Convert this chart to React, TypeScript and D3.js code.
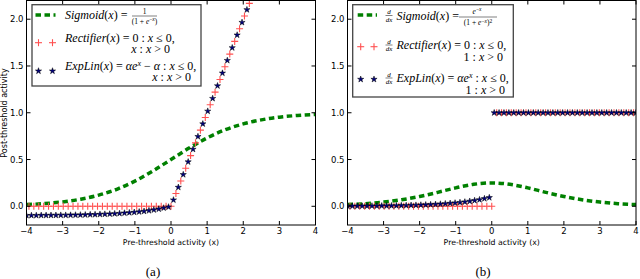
import React from 'react';
import * as d3 from 'd3';

// tick values
const xTicks = [-4, -3, -2, -1, 0, 1, 2, 3, 4];
const yTicks = [0, 0.5, 1, 1.5, 2];

// sigmoid curve samples (x every 0.5)
const sigX = [-4, -3.5, -3, -2.5, -2, -1.5, -1, -0.5, 0, 0.5, 1, 1.5, 2, 2.5, 3, 3.5, 4];
const sigY = [0.018, 0.029, 0.047, 0.076, 0.119, 0.182, 0.269, 0.378, 0.5, 0.622, 0.731, 0.818, 0.881, 0.924, 0.953, 0.971, 0.982];
const sigDY = [0.018, 0.028, 0.045, 0.07, 0.105, 0.149, 0.197, 0.235, 0.25, 0.235, 0.197, 0.149, 0.105, 0.07, 0.045, 0.028, 0.018];

// ExpLin samples (stars)
const starX = [
  -4.0, -3.864, -3.729, -3.593, -3.458, -3.322, -3.186, -3.051, -2.915, -2.78,
  -2.644, -2.508, -2.373, -2.237, -2.102, -1.966, -1.831, -1.695, -1.559, -1.424,
  -1.288, -1.153, -1.017, -0.881, -0.746, -0.61, -0.475, -0.339, -0.203, -0.068,
  0.068, 0.203, 0.339, 0.475, 0.61, 0.746, 0.881, 1.017, 1.153, 1.288,
  1.424, 1.559, 1.695, 1.831, 1.966, 2.102, 2.237, 2.373, 2.508, 2.644,
  2.78, 2.915, 3.051, 3.186, 3.322, 3.458, 3.593, 3.729, 3.864, 4.0,
];
const expLinY = [
  -0.098, -0.098, -0.098, -0.097, -0.097, -0.096, -0.096, -0.095, -0.095, -0.094,
  -0.093, -0.092, -0.091, -0.089, -0.088, -0.086, -0.084, -0.082, -0.079, -0.076,
  -0.072, -0.068, -0.064, -0.059, -0.053, -0.046, -0.038, -0.029, -0.018, -0.007,
  0.068, 0.203, 0.339, 0.475, 0.61, 0.746, 0.881, 1.017, 1.153, 1.288,
  1.424, 1.559, 1.695, 1.831, 1.966, 2.102, 2.237, 2.373, 2.508, 2.644,
  2.78, 2.915, 3.051, 3.186, 3.322, 3.458, 3.593, 3.729, 3.864, 4.0,
];
const expLinDY = [
  0.002, 0.002, 0.002, 0.003, 0.003, 0.004, 0.004, 0.005, 0.005, 0.006,
  0.007, 0.008, 0.009, 0.011, 0.012, 0.014, 0.016, 0.018, 0.021, 0.024,
  0.028, 0.032, 0.036, 0.041, 0.047, 0.054, 0.062, 0.071, 0.082, 0.093,
  1, 1, 1, 1, 1, 1, 1, 1, 1, 1,
  1, 1, 1, 1, 1, 1, 1, 1, 1, 1,
  1, 1, 1, 1, 1, 1, 1, 1, 1, 1,
];

// Rectifier samples (pluses)
const plusX = [
  -3.932, -3.797, -3.661, -3.525, -3.39, -3.254, -3.119, -2.983, -2.847, -2.712,
  -2.576, -2.441, -2.305, -2.169, -2.034, -1.898, -1.763, -1.627, -1.492, -1.356,
  -1.22, -1.085, -0.949, -0.814, -0.678, -0.542, -0.407, -0.271, -0.136, 0.0,
  0.136, 0.271, 0.407, 0.542, 0.678, 0.814, 0.949, 1.085, 1.22, 1.356,
  1.492, 1.627, 1.763, 1.898, 2.034, 2.169, 2.305, 2.441, 2.576, 2.712,
  2.847, 2.983, 3.119, 3.254, 3.39, 3.525, 3.661, 3.797, 3.932,
];
const rectY = [
  0, 0, 0, 0, 0, 0, 0, 0, 0, 0,
  0, 0, 0, 0, 0, 0, 0, 0, 0, 0,
  0, 0, 0, 0, 0, 0, 0, 0, 0, 0,
  0.136, 0.271, 0.407, 0.542, 0.678, 0.814, 0.949, 1.085, 1.22, 1.356,
  1.492, 1.627, 1.763, 1.898, 2.034, 2.169, 2.305, 2.441, 2.576, 2.712,
  2.847, 2.983, 3.119, 3.254, 3.39, 3.525, 3.661, 3.797, 3.932,
];
const rectDY = [
  0, 0, 0, 0, 0, 0, 0, 0, 0, 0,
  0, 0, 0, 0, 0, 0, 0, 0, 0, 0,
  0, 0, 0, 0, 0, 0, 0, 0, 0, 0,
  1, 1, 1, 1, 1, 1, 1, 1, 1, 1,
  1, 1, 1, 1, 1, 1, 1, 1, 1, 1,
  1, 1, 1, 1, 1, 1, 1, 1, 1,
];

const GREEN = '#008000';
const RED = '#ff5050';
const NAVY = '#000080';
const SANS = '"DejaVu Sans", sans-serif';
const SERIF = '"Liberation Serif", serif';

const y = d3.scaleLinear().domain([-0.2, 2.2]).range([225, 0.5]);
const starPath = d3.symbol(d3.symbolStar, 12)() as string;

const Plus = ({ cx, cy }: { cx: number; cy: number }) => (
  <g stroke={RED} strokeWidth={1.1}>
    <line x1={cx - 3.5} x2={cx + 3.5} y1={cy} y2={cy} />
    <line x1={cx} x2={cx} y1={cy - 3.5} y2={cy + 3.5} />
  </g>
);
const Star = ({ cx, cy }: { cx: number; cy: number }) => (
  <path d={starPath} transform={`translate(${cx},${cy})`} fill={NAVY} stroke="#000" strokeWidth={0.5} />
);

const Panel = ({ id, x0, x1, lineY, plusY, starY, label, capX, children }: any) => {
  const x = d3.scaleLinear().domain([-4, 4]).range([x0, x1]);
  const [top, bottom] = [y.range()[1], y.range()[0]];
  const line = d3.line<number>().x((d, i) => x(sigX[i])).y((d) => y(d)).curve(d3.curveMonotoneX);
  return (
    <g>
      <defs>
        <clipPath id={id}>
          <rect x={x0} y={top} width={x1 - x0} height={bottom - top} />
        </clipPath>
      </defs>
      <g clipPath={`url(#${id})`}>
        <path d={line(lineY) as string} fill="none" stroke={GREEN} strokeWidth={3.5} strokeDasharray="5.5 3.5" />
        {plusX.map((v, i) => <Plus key={i} cx={x(v)} cy={y(plusY[i])} />)}
        {starX.map((v, i) => <Star key={i} cx={x(v)} cy={y(starY[i])} />)}
      </g>
      <rect x={x0} y={top} width={x1 - x0} height={bottom - top} fill="none" stroke="#000" strokeWidth={1} />
      {xTicks.map((t) => (
        <g key={t}>
          <line x1={x(t)} x2={x(t)} y1={bottom} y2={bottom - 4} stroke="#000" />
          <line x1={x(t)} x2={x(t)} y1={top} y2={top + 4} stroke="#000" />
          <text x={x(t)} y={233.5} textAnchor="middle" fontFamily={SANS} fontSize={8.5}>
            {t < 0 ? `\u2212${-t}` : t}
          </text>
        </g>
      ))}
      {yTicks.map((t) => (
        <g key={t}>
          <line x1={x0} x2={x0 + 4} y1={y(t)} y2={y(t)} stroke="#000" />
          <line x1={x1} x2={x1 - 4} y1={y(t)} y2={y(t)} stroke="#000" />
          <text x={x0 - 3} y={y(t) + 3} textAnchor="end" fontFamily={SANS} fontSize={8.5}>
            {t.toFixed(1)}
          </text>
        </g>
      ))}
      <text x={(x0 + x1) / 2} y={245} textAnchor="middle" fontFamily={SANS} fontSize={7.8}>
        Pre-threshold activity (x)
      </text>
      <text x={capX} y={276} textAnchor="middle" fontFamily={SERIF} fontSize={13}>
        {label}
      </text>
      {children}
    </g>
  );
};

const It = ({ children }: any) => <tspan fontStyle="italic">{children}</tspan>;

const LegendKeys = ({ xa, xb, ys }: { xa: number; xb: number; ys: number[] }) => (
  <g>
    <line x1={xa - 3} x2={xb + 3} y1={ys[0]} y2={ys[0]} stroke={GREEN} strokeWidth={3.5} strokeDasharray="5.5 3.5" />
    <Plus cx={xa} cy={ys[1]} />
    <Plus cx={xb} cy={ys[1]} />
    <Star cx={xa} cy={ys[2]} />
    <Star cx={xb} cy={ys[2]} />
  </g>
);

const Ddx = ({ x, cy }: { x: number; cy: number }) => (
  <g fontFamily={SERIF} fontSize={7} fontStyle="italic" textAnchor="middle">
    <text x={x} y={cy - 1.5}>d</text>
    <line x1={x - 3.5} x2={x + 3.5} y1={cy} y2={cy} stroke="#000" strokeWidth={0.5} />
    <text x={x} y={cy + 6}>dx</text>
  </g>
);

export default function App() {
  return (
    <svg width={640} height={279} style={{ position: 'absolute', left: 0, top: 0 }}>
      <rect width={640} height={279} fill="#fff" />
      <text transform="translate(7,113) rotate(-90)" textAnchor="middle" fontFamily={SANS} fontSize={8}>
        Post-threshold activity
      </text>

      <Panel id="clipA" x0={26.5} x1={315.5} lineY={sigY} plusY={rectY} starY={expLinY} label="(a)" capX={153}>
        <rect x={32} y={4.7} width={169} height={81.3} fill="#fff" stroke="#444" strokeWidth={1.3} />
        <LegendKeys xa={38.5} xb={52.5} ys={[15, 42.7, 71]} />
        <g fontFamily={SERIF} fontSize={12}>
          <text x={65} y={19}>
            <It>Sigmoid</It>(<It>x</It>) =
          </text>
          <g fontSize={7.5} textAnchor="middle">
            <text x={144.5} y={13.5}>1</text>
            <line x1={132} x2={157} y1={16} y2={16} stroke="#000" strokeWidth={0.5} />
            <text x={144.5} y={23.5}>
              (1 + <It>e</It><tspan fontSize={5.5} dy={-2.5}>−<It>x</It></tspan><tspan dy={2.5}>)</tspan>
            </text>
          </g>
          <text x={65} y={41.5}>
            <It>Rectifier</It>(<It>x</It>) = 0 : <It>x</It> ≤ 0,
          </text>
          <text x={170} y={52.5} textAnchor="end">
            <It>x</It> : <It>x</It> &gt; 0
          </text>
          <text x={65} y={70}>
            <It>ExpLin</It>(<It>x</It>) = <It>αe</It><tspan fontSize={8} dy={-4}><It>x</It></tspan><tspan dy={4}> − <It>α</It> : <It>x</It> ≤ 0,</tspan>
          </text>
          <text x={191} y={81} textAnchor="end">
            <It>x</It> : <It>x</It> &gt; 0
          </text>
        </g>
      </Panel>

      <Panel id="clipB" x0={347.5} x1={636} lineY={sigDY} plusY={rectDY} starY={expLinDY} label="(b)" capX={483}>
        <rect x={352.7} y={4.7} width={160.6} height={92.3} fill="#fff" stroke="#444" strokeWidth={1.3} />
        <LegendKeys xa={360.7} xb={374} ys={[15, 46.7, 79.3]} />
        <Ddx x={389} cy={15.5} />
        <Ddx x={389} cy={45} />
        <Ddx x={389} cy={78} />
        <g fontFamily={SERIF} fontSize={12}>
          <text x={396.5} y={20}>
            <It>Sigmoid</It>(<It>x</It>) =
          </text>
          <g fontSize={7.5} textAnchor="middle">
            <text x={477} y={13.5}>
              <It>e</It><tspan fontSize={5.5} dy={-2.5}>−<It>x</It></tspan>
            </text>
            <line x1={459} x2={497} y1={17} y2={17} stroke="#000" strokeWidth={0.5} />
            <text x={478} y={25}>
              (1 + <It>e</It><tspan fontSize={5.5} dy={-2.5}>−<It>x</It></tspan><tspan dy={2.5}>)</tspan><tspan fontSize={5.5} dy={-2.5}>2</tspan>
            </text>
          </g>
          <text x={396.5} y={49}>
            <It>Rectifier</It>(<It>x</It>) = 0 : <It>x</It> ≤ 0,
          </text>
          <text x={503} y={60.5} textAnchor="end">
            1 : <It>x</It> &gt; 0
          </text>
          <text x={396.5} y={82}>
            <It>ExpLin</It>(<It>x</It>) = <It>αe</It><tspan fontSize={8} dy={-4}><It>x</It></tspan><tspan dy={4}> : <It>x</It> ≤ 0,</tspan>
          </text>
          <text x={505} y={94} textAnchor="end">
            1 : <It>x</It> &gt; 0
          </text>
        </g>
      </Panel>
    </svg>
  );
}
